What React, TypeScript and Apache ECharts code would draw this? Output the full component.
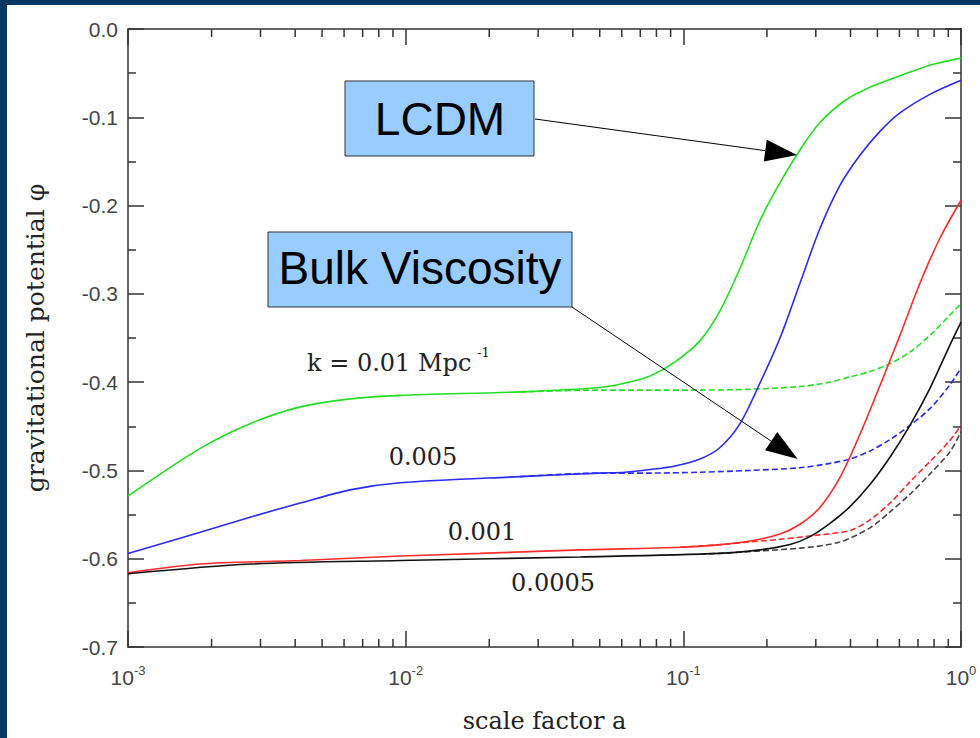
import React, { useEffect, useRef } from 'react';
import * as echarts from 'echarts';

// scale factor a (log axis) minor tick positions
const xMinorTicks = [
  0.002, 0.003, 0.004, 0.005, 0.006, 0.007, 0.008, 0.009,
  0.02, 0.03, 0.04, 0.05, 0.06, 0.07, 0.08, 0.09,
  0.2, 0.3, 0.4, 0.5, 0.6, 0.7, 0.8, 0.9,
];

// [scale factor a, gravitational potential phi]
const greenLCDM: [number, number][] = [
  [0.001, -0.529], [0.00182, -0.475], [0.00275, -0.447], [0.00417, -0.428],
  [0.00631, -0.419], [0.00955, -0.415], [0.0258, -0.411], [0.0501, -0.406],
  [0.0617, -0.401], [0.0759, -0.393], [0.0934, -0.377], [0.1149, -0.353],
  [0.1356, -0.319], [0.16, -0.271], [0.1888, -0.217], [0.2229, -0.174],
  [0.263, -0.137], [0.3104, -0.106], [0.382, -0.081], [0.47, -0.066],
  [0.6027, -0.053], [0.7729, -0.041], [1.0, -0.033],
];
const greenBulk: [number, number][] = [
  [0.0258, -0.411], [0.0501, -0.409], [0.0759, -0.409], [0.1149, -0.409],
  [0.174, -0.408], [0.263, -0.405], [0.3374, -0.4], [0.3982, -0.394],
  [0.47, -0.388], [0.5548, -0.379], [0.6548, -0.366], [0.7729, -0.347],
  [0.9122, -0.324], [1.0, -0.311],
];
const blueLCDM: [number, number][] = [
  [0.001, -0.594], [0.00182, -0.57], [0.00275, -0.553], [0.00417, -0.537],
  [0.00631, -0.522], [0.00955, -0.514], [0.0258, -0.507], [0.0501, -0.503],
  [0.0617, -0.502], [0.0759, -0.499], [0.0934, -0.495], [0.1149, -0.487],
  [0.1356, -0.474], [0.16, -0.447], [0.1888, -0.401], [0.2229, -0.35],
  [0.263, -0.288], [0.3104, -0.226], [0.3665, -0.177], [0.4326, -0.143],
  [0.5105, -0.116], [0.6027, -0.095], [0.7729, -0.074], [1.0, -0.058],
];
const blueBulk: [number, number][] = [
  [0.0258, -0.507], [0.0501, -0.503], [0.0759, -0.503], [0.1149, -0.502],
  [0.174, -0.5], [0.263, -0.497], [0.3374, -0.492], [0.3982, -0.487],
  [0.47, -0.478], [0.5548, -0.465], [0.6548, -0.449], [0.7729, -0.43],
  [0.9122, -0.403], [1.0, -0.384],
];
const redLCDM: [number, number][] = [
  [0.001, -0.616], [0.00182, -0.606], [0.00417, -0.602], [0.00955, -0.597],
  [0.0185, -0.594], [0.0425, -0.59], [0.0973, -0.587], [0.1356, -0.584],
  [0.1738, -0.58], [0.2229, -0.572], [0.263, -0.561], [0.3104, -0.542],
  [0.3665, -0.508], [0.4326, -0.459], [0.5105, -0.404], [0.6027, -0.347],
  [0.7113, -0.288], [0.8395, -0.237], [1.0, -0.194],
];
const redBulk: [number, number][] = [
  [0.0973, -0.587], [0.1356, -0.584], [0.1738, -0.581], [0.2229, -0.578],
  [0.3104, -0.573], [0.3982, -0.568], [0.47, -0.556], [0.5548, -0.537],
  [0.6548, -0.513], [0.7729, -0.49], [0.9122, -0.466], [1.0, -0.449],
];
const blackLCDM: [number, number][] = [
  [0.001, -0.617], [0.00275, -0.606], [0.00955, -0.602], [0.0425, -0.598],
  [0.1356, -0.594], [0.1888, -0.59], [0.2421, -0.584], [0.2858, -0.575],
  [0.3374, -0.56], [0.3982, -0.541], [0.47, -0.516], [0.5548, -0.485],
  [0.6548, -0.449], [0.7729, -0.407], [0.9122, -0.358], [1.0, -0.332],
];
const blackBulk: [number, number][] = [
  [0.1149, -0.595], [0.263, -0.588], [0.3665, -0.581], [0.47, -0.565],
  [0.5548, -0.547], [0.6548, -0.527], [0.7729, -0.504], [0.9122, -0.479],
  [1.0, -0.456],
];

const kLabels = ['k = 0.01 Mpc', '0.005', '0.001', '0.0005'];
const boxLabels = ['LCDM', 'Bulk Viscosity'];

const AXIS = '#333';
const LABEL = '#444';
const SERIF = 'DejaVu Serif';
const SANS = 'Liberation Sans';

function mkLine(name: string, data: [number, number][], color: string, dashed: boolean) {
  return {
    type: 'line',
    name,
    data,
    xAxisIndex: 0,
    yAxisIndex: 0,
    showSymbol: false,
    symbol: 'none',
    smooth: 0.3,
    silent: true,
    lineStyle: { color, width: 1.6, type: dashed ? [6, 3] : 'solid' },
    z: dashed ? 2 : 3,
  };
}

function arrow(x1: number, y1: number, x2: number, y2: number) {
  const dx = x2 - x1;
  const dy = y2 - y1;
  const len = Math.sqrt(dx * dx + dy * dy);
  const ux = dx / len;
  const uy = dy / len;
  const hl = 32;
  const hw = 11;
  const bx = x2 - hl * ux;
  const by = y2 - hl * uy;
  return [
    { type: 'line', shape: { x1, y1, x2: bx, y2: by }, style: { stroke: '#000', lineWidth: 1 }, z: 20 },
    {
      type: 'polygon',
      shape: { points: [[x2, y2], [bx - hw * uy, by + hw * ux], [bx + hw * uy, by - hw * ux]] },
      style: { fill: '#000' },
      z: 20,
    },
  ];
}

export default function App() {
  const ref = useRef<HTMLDivElement>(null);
  useEffect(() => {
    if (!ref.current) return;
    const chart = echarts.init(ref.current, undefined, { renderer: 'svg' });
    const xCommon = {
      type: 'log',
      logBase: 10,
      min: 0.001,
      max: 1,
      splitNumber: 3,
      splitLine: { show: false },
      axisLine: { show: true, onZero: false, lineStyle: { color: AXIS, width: 1.5 } },
      axisTick: { show: true, inside: true, length: 16, lineStyle: { color: AXIS, width: 1.5 } },
    };
    const yCommon = {
      type: 'value',
      min: -0.7,
      max: 0,
      interval: 0.1,
      splitLine: { show: false },
      axisLine: { show: true, onZero: false, lineStyle: { color: AXIS, width: 1.5 } },
      axisTick: { show: true, inside: true, length: 16, lineStyle: { color: AXIS, width: 1.5 } },
      minorTick: { show: true, splitNumber: 2, length: 8, lineStyle: { color: AXIS, width: 1.5 } },
    };
    chart.setOption({
      animation: false,
      backgroundColor: '#ffffff',
      grid: { left: 128, right: 19, top: 29, bottom: 91 },
      xAxis: [
        {
          ...xCommon,
          position: 'bottom',
          name: 'scale factor a',
          nameLocation: 'middle',
          nameGap: 62,
          nameTextStyle: { fontFamily: SERIF, fontSize: 24, color: '#222' },
          axisLabel: {
            show: true,
            margin: 17,
            showMinLabel: true,
            showMaxLabel: true,
            formatter: (v: number) => `{b|10}{s|${Math.round(Math.log10(v))}}`,
            rich: {
              b: { fontFamily: SANS, fontSize: 21, color: LABEL },
              s: { fontFamily: SANS, fontSize: 13, color: LABEL, padding: [0, 0, 13, 0] },
            },
          },
        },
        { ...xCommon, position: 'top', axisLabel: { show: false } },
      ],
      yAxis: [
        {
          ...yCommon,
          position: 'left',
          name: 'gravitational potential \u03c6',
          nameLocation: 'middle',
          nameGap: 80,
          nameTextStyle: { fontFamily: SERIF, fontSize: 25, color: '#222' },
          axisLabel: {
            show: true,
            margin: 10,
            fontFamily: SANS,
            fontSize: 21,
            color: LABEL,
            formatter: (v: number) => v.toFixed(1),
          },
        },
        { ...yCommon, position: 'right', axisLabel: { show: false } },
      ],
      series: [
        mkLine('k=0.01 bulk', greenBulk, '#22e022', true),
        mkLine('k=0.005 bulk', blueBulk, '#2a2aff', true),
        mkLine('k=0.001 bulk', redBulk, '#ff2a2a', true),
        mkLine('k=0.0005 bulk', blackBulk, '#444444', true),
        mkLine('k=0.01 LCDM', greenLCDM, '#22e022', false),
        mkLine('k=0.005 LCDM', blueLCDM, '#2a2aff', false),
        mkLine('k=0.001 LCDM', redLCDM, '#ff2a2a', false),
        mkLine('k=0.0005 LCDM', blackLCDM, '#111111', false),
        {
          type: 'custom',
          name: 'minor ticks',
          xAxisIndex: 0,
          yAxisIndex: 0,
          silent: true,
          data: xMinorTicks.map((v) => [v, -0.7]),
          renderItem: (_p: any, api: any) => {
            const x = api.value(0);
            const pb = api.coord([x, -0.7]);
            const pt = api.coord([x, 0]);
            return {
              type: 'group',
              children: [
                { type: 'line', shape: { x1: pb[0], y1: pb[1], x2: pb[0], y2: pb[1] - 8 }, style: { stroke: AXIS, lineWidth: 1.5 } },
                { type: 'line', shape: { x1: pt[0], y1: pt[1], x2: pt[0], y2: pt[1] + 8 }, style: { stroke: AXIS, lineWidth: 1.5 } },
              ],
            };
          },
          z: 5,
        },
      ],
      graphic: [
        { type: 'rect', shape: { x: 0, y: 0, width: 7, height: 738 }, style: { fill: '#073763' }, z: 30 },
        { type: 'rect', shape: { x: 0, y: 0, width: 980, height: 5 }, style: { fill: '#073763' }, z: 30 },
        { type: 'rect', shape: { x: 345, y: 81, width: 189, height: 75 }, style: { fill: '#99ccff', stroke: '#333', lineWidth: 1 }, z: 10 },
        { type: 'text', x: 440, y: 119, style: { text: boxLabels[0], fontFamily: SANS, fontSize: 46, fill: '#000', align: 'center', verticalAlign: 'middle' }, z: 11 },
        { type: 'rect', shape: { x: 268, y: 232, width: 304, height: 75 }, style: { fill: '#99ccff', stroke: '#333', lineWidth: 1 }, z: 10 },
        { type: 'text', x: 420, y: 268, style: { text: boxLabels[1], fontFamily: SANS, fontSize: 46, fill: '#000', align: 'center', verticalAlign: 'middle' }, z: 11 },
        ...arrow(535, 119, 797, 155),
        ...arrow(572, 307, 797.7, 459),
        { type: 'text', x: 307, y: 363, style: { text: kLabels[0], fontFamily: SERIF, fontSize: 24, fill: '#222', align: 'left', verticalAlign: 'middle' }, z: 11 },
        { type: 'text', x: 477, y: 352, style: { text: '-1', fontFamily: SERIF, fontSize: 13, fill: '#222', align: 'left', verticalAlign: 'middle' }, z: 11 },
        { type: 'text', x: 423, y: 457, style: { text: kLabels[1], fontFamily: SERIF, fontSize: 24, fill: '#222', align: 'center', verticalAlign: 'middle' }, z: 11 },
        { type: 'text', x: 482, y: 532, style: { text: kLabels[2], fontFamily: SERIF, fontSize: 24, fill: '#222', align: 'center', verticalAlign: 'middle' }, z: 11 },
        { type: 'text', x: 553, y: 583, style: { text: kLabels[3], fontFamily: SERIF, fontSize: 24, fill: '#222', align: 'center', verticalAlign: 'middle' }, z: 11 },
      ],
    });
    return () => chart.dispose();
  }, []);
  return (
    <div
      ref={ref}
      style={{ position: 'fixed', left: 0, top: 0, width: 980, height: 738, background: '#fff' }}
    />
  );
}
